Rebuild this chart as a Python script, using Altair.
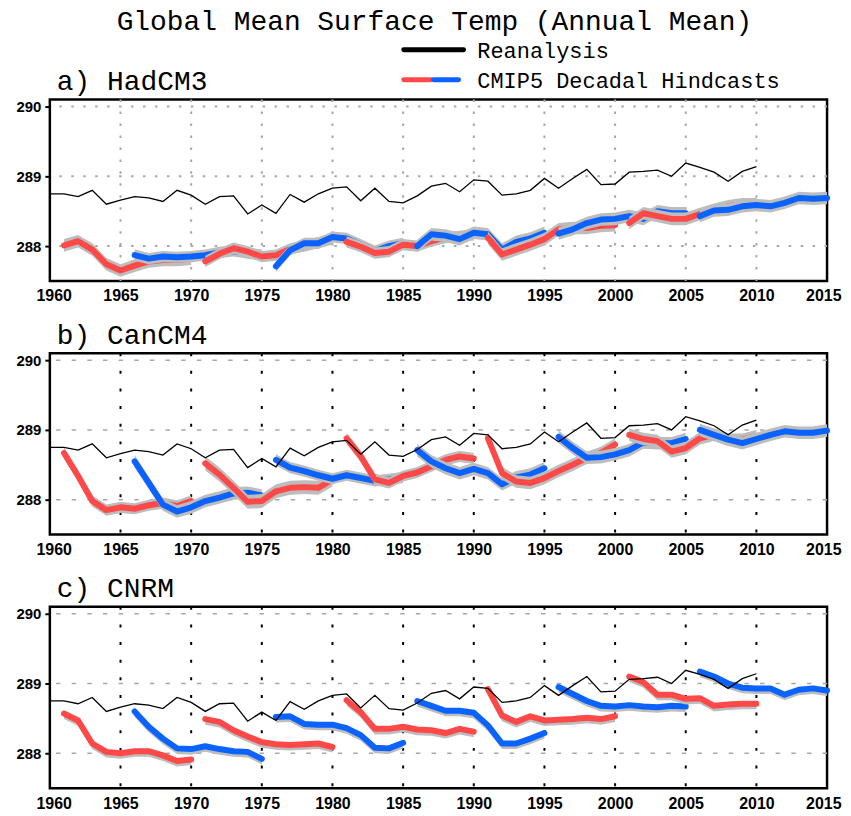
import altair as alt
import pandas as pd

# ---------------- data ----------------
YEARS_REAN = list(range(1960, 2011))
REANALYSIS = [288.75, 288.75, 288.71, 288.80, 288.60, 288.66, 288.71, 288.69, 288.64, 288.80,
              288.73, 288.60, 288.71, 288.72, 288.46, 288.59, 288.47, 288.74, 288.63, 288.75,
              288.83, 288.85, 288.65, 288.83, 288.64, 288.62, 288.72, 288.86, 288.90, 288.78,
              288.95, 288.93, 288.73, 288.75, 288.80, 288.97, 288.83, 288.97, 289.10, 288.88,
              288.89, 289.06, 289.07, 289.09, 289.00, 289.19, 289.13, 289.06, 288.93, 289.07,
              289.14]

START_YEARS = [1961, 1966, 1971, 1976, 1981, 1986, 1991, 1996, 2001, 2006]

HADCM3 = [
    [288.01, 288.07, 287.95, 287.74, 287.65, 287.72, 287.78, 287.80, 287.80, 287.82],
    [287.87, 287.82, 287.85, 287.84, 287.85, 287.87, 287.91, 287.93, 287.90, 287.87],
    [287.78, 287.89, 287.97, 287.92, 287.85, 287.87, 287.96, 288.00, 288.05, 288.10],
    [287.71, 287.94, 288.04, 288.04, 288.13, 288.11, 288.02, 287.93, 288.00, 288.04],
    [288.06, 287.99, 287.90, 287.92, 288.02, 288.00, 288.07, 288.12, 288.14, 288.16],
    [288.00, 288.17, 288.15, 288.10, 288.19, 288.17, 287.95, 288.06, 288.11, 288.19],
    [288.12, 287.88, 287.95, 288.02, 288.10, 288.24, 288.26, 288.26, 288.29, 288.30],
    [288.18, 288.24, 288.33, 288.38, 288.39, 288.43, 288.39, 288.50, 288.47, 288.47],
    [288.33, 288.47, 288.43, 288.39, 288.39, 288.46, 288.52, 288.57, 288.60, 288.60],
    [288.43, 288.51, 288.52, 288.57, 288.59, 288.57, 288.62, 288.69, 288.68, 288.69],
]
HADCM3_LO = [0.09, 0.08, 0.08, 0.08, 0.08, 0.09, 0.09, 0.09, 0.09, 0.09]
HADCM3_HI = [0.09, 0.08, 0.08, 0.08, 0.08, 0.09, 0.09, 0.09, 0.09, 0.09]

CANCM4 = [
    [288.67, 288.34, 287.98, 287.85, 287.89, 287.87, 287.92, 287.95, 287.91, 287.98],
    [288.55, 288.24, 287.93, 287.83, 287.89, 287.98, 288.03, 288.09, 288.10, 288.06],
    [288.52, 288.36, 288.17, 287.97, 287.98, 288.12, 288.17, 288.18, 288.17, 288.29],
    [288.57, 288.46, 288.41, 288.35, 288.30, 288.35, 288.31, 288.27, 288.29, 288.32],
    [288.88, 288.62, 288.29, 288.24, 288.34, 288.39, 288.48, 288.57, 288.62, 288.59],
    [288.71, 288.55, 288.45, 288.38, 288.44, 288.38, 288.22, 288.32, 288.36, 288.45],
    [288.88, 288.38, 288.26, 288.24, 288.31, 288.41, 288.50, 288.60, 288.67, 288.79],
    [288.90, 288.74, 288.60, 288.61, 288.65, 288.71, 288.82, 288.81, 288.81, 288.87],
    [288.93, 288.87, 288.84, 288.69, 288.74, 288.88, 288.93, 288.86, 288.86, 288.91],
    [289.00, 288.93, 288.86, 288.81, 288.87, 288.93, 288.98, 288.96, 288.96, 288.99],
]
CANCM4_LO = [0.08, 0.09, 0.10, 0.08, 0.08, 0.09, 0.09, 0.09, 0.09, 0.09]
CANCM4_HI = [0.08, 0.09, 0.10, 0.08, 0.08, 0.09, 0.09, 0.09, 0.09, 0.09]

CNRM = [
    [288.57, 288.47, 288.14, 288.02, 288.00, 288.03, 288.03, 287.97, 287.89, 287.91],
    [288.60, 288.38, 288.21, 288.07, 288.06, 288.10, 288.06, 288.03, 288.02, 287.92],
    [288.49, 288.45, 288.33, 288.24, 288.16, 288.13, 288.12, 288.13, 288.14, 288.09],
    [288.52, 288.53, 288.42, 288.41, 288.41, 288.36, 288.26, 288.08, 288.07, 288.15],
    [288.76, 288.59, 288.35, 288.35, 288.38, 288.34, 288.33, 288.29, 288.35, 288.31],
    [288.75, 288.68, 288.61, 288.61, 288.58, 288.40, 288.14, 288.14, 288.21, 288.29],
    [288.92, 288.54, 288.45, 288.53, 288.47, 288.48, 288.49, 288.51, 288.49, 288.53],
    [288.95, 288.85, 288.75, 288.68, 288.67, 288.69, 288.67, 288.66, 288.68, 288.67],
    [289.10, 289.02, 288.84, 288.84, 288.78, 288.79, 288.68, 288.70, 288.71, 288.71],
    [289.17, 289.10, 289.00, 288.94, 288.93, 288.93, 288.84, 288.91, 288.93, 288.90],
]
CNRM_LO = [0.08, 0.08, 0.08, 0.08, 0.08, 0.08, 0.08, 0.08, 0.08, 0.08]
CNRM_HI = [0.03, 0.03, 0.03, 0.03, 0.03, 0.03, 0.03, 0.03, 0.03, 0.03]

X_TICKS = [1960, 1965, 1970, 1975, 1980, 1985, 1990, 1995, 2000, 2005, 2010, 2015]
GRID_YEARS = [1965, 1970, 1975, 1980, 1985, 1990, 1995, 2000, 2005, 2010]
Y_TICKS = [288, 289, 290]
X_DOMAIN = [1960, 2015]
Y_DOMAIN = [287.5, 290.1]

TITLE = "Global Mean Surface Temp (Annual Mean)"
LEGEND_LABELS = ["Reanalysis", "CMIP5 Decadal Hindcasts"]
PANEL_LABELS = ["a) HadCM3", "b) CanCM4", "c) CNRM"]

# ---------------- styling ----------------
RED = "#FF4848"
BLUE = "#0A62FF"
BAND = "#BDBDBD"
W, H = 780, 182
TXT_FONT = "Liberation Mono"
NUM_FONT = "Liberation Sans"

XS = alt.Scale(domain=X_DOMAIN, nice=False, zero=False)
YS = alt.Scale(domain=Y_DOMAIN, nice=False, zero=False)
X_AXIS = alt.Axis(values=X_TICKS, format="d", title=None, grid=False, domain=False,
                  ticks=False, tickSize=0, labelPadding=7, labelFont=NUM_FONT,
                  labelFontSize=16, labelFontWeight="bold", labelColor="black",
                  labelFlush=True, labelFlushOffset=14, labelOverlap=False)
Y_AXIS = alt.Axis(values=Y_TICKS, format="d", title=None, grid=False, domain=False,
                  ticks=True, tickSize=5, tickWidth=2, tickColor="black",
                  labelPadding=4, labelFont=NUM_FONT, labelFontSize=15,
                  labelFontWeight="bold", labelColor="black",
                  minExtent=36, maxExtent=36)

X = alt.X("year:Q", scale=XS, axis=X_AXIS)
Y = alt.Y("value:Q", scale=YS, axis=Y_AXIS)
YLO = alt.Y("lo:Q", scale=YS, axis=Y_AXIS)


def hindcast_frame(start, vals, lo, hi):
    years = list(range(start, start + len(vals)))
    return pd.DataFrame({
        "year": years,
        "value": vals,
        "lo": [v - lo for v in vals],
        "hi": [v + hi for v in vals],
    })


def text_layer(txt, size, x, y, align="left"):
    return alt.Chart(pd.DataFrame({"t": [txt]})).mark_text(
        font=TXT_FONT, fontSize=size, color="black", align=align, baseline="middle"
    ).encode(text="t:N", x=alt.value(x), y=alt.value(y))


def panel(label, runs, lo_s, hi_s, style, extra=None):
    if style == "a":
        vg = dict(color="#a8a8a8", strokeDash=[2.5, 9.5], strokeWidth=2)
        hg = dict(color="#a8a8a8", strokeDash=[2.5, 9.5], strokeWidth=2)
    else:
        vg = dict(color="black", strokeDash=[3, 14.7], strokeWidth=2)
        hg = dict(color="#a8a8a8", strokeDash=[4.5, 11.2], strokeWidth=1.5)
    layers = [
        alt.Chart(pd.DataFrame({"year": GRID_YEARS})).mark_rule(**vg).encode(x=X),
        alt.Chart(pd.DataFrame({"value": Y_TICKS})).mark_rule(**hg).encode(y=Y),
    ]
    for i, s in enumerate(START_YEARS):
        df = hindcast_frame(s, runs[i], lo_s[i], hi_s[i])
        color = RED if i % 2 == 0 else BLUE
        layers.append(alt.Chart(df).mark_area(color=BAND, opacity=1).encode(
            x=X, y=YLO, y2=alt.Y2("hi:Q")))
        layers.append(alt.Chart(df).mark_line(
            color=color, strokeWidth=6, strokeCap="round", strokeJoin="round").encode(x=X, y=Y))
    rean = pd.DataFrame({"year": YEARS_REAN, "value": REANALYSIS})
    layers.append(alt.Chart(rean).mark_line(color="black", strokeWidth=1.3).encode(x=X, y=Y))
    layers.append(text_layer(label, 28, 7, -17.7))
    if extra:
        layers += extra
    return alt.layer(*layers).properties(width=W, height=H)


one = pd.DataFrame({"k": [0]})
header = [
    text_layer(TITLE, 28, 386, -78, align="center"),
    alt.Chart(one).mark_rule(color="black", strokeWidth=5, strokeCap="round").encode(
        x=alt.value(355.2), x2=alt.value(415.2), y=alt.value(-50)),
    alt.Chart(one).mark_rule(color=RED, strokeWidth=5, strokeCap="round").encode(
        x=alt.value(355.2), x2=alt.value(382.7), y=alt.value(-20)),
    alt.Chart(one).mark_rule(color=BLUE, strokeWidth=5, strokeCap="round").encode(
        x=alt.value(385.2), x2=alt.value(410.2), y=alt.value(-20)),
    text_layer(LEGEND_LABELS[0], 22, 429, -49),
    text_layer(LEGEND_LABELS[1], 22, 429, -19),
]

pa = panel(PANEL_LABELS[0], HADCM3, HADCM3_LO, HADCM3_HI, "a", extra=header)
pb = panel(PANEL_LABELS[1], CANCM4, CANCM4_LO, CANCM4_HI, "b")
pc = panel(PANEL_LABELS[2], CNRM, CNRM_LO, CNRM_HI, "c")

chart = alt.vconcat(pa, pb, pc, spacing=72.5, bounds="flush").properties(
    padding={"left": 4, "top": -3.5, "right": 0, "bottom": -3.5},
    background="white",
).configure_view(stroke="black", strokeWidth=2.5)

chart.save("out.html", embed_options={"renderer": "svg", "actions": False})
